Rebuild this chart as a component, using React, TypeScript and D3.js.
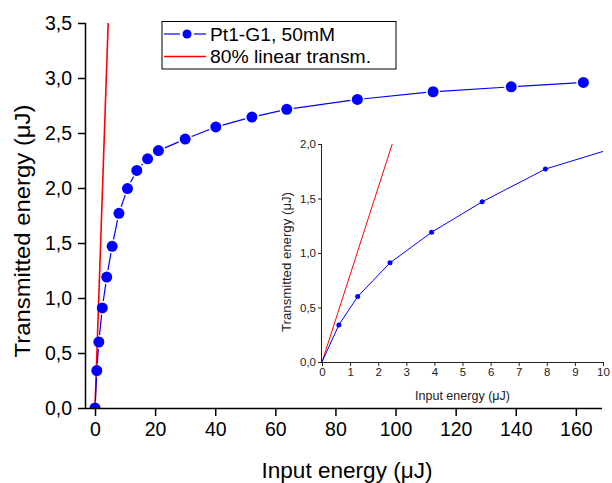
import React, { useEffect, useRef } from 'react';
import * as d3 from 'd3';

// measured values (µJ)
const inputEnergy = [0, 0.6, 1.27, 2.42, 3.9, 5.7, 7.95, 10.8, 13.9, 17.5, 21.1, 30, 40.2, 52.2, 63.8, 87.3, 112.5, 138.5, 162.5];
const transmitted = [0, 0.34, 0.6, 0.91, 1.19, 1.47, 1.77, 1.995, 2.16, 2.265, 2.34, 2.445, 2.555, 2.645, 2.715, 2.805, 2.875, 2.92, 2.96];

// 80% linear transmission reference line endpoints
const linearIn = [0, 5];
const linearOut = [0, 4];

const mainXTicks = [0, 20, 40, 60, 80, 100, 120, 140, 160];
const mainYTicks = [0, 0.5, 1.0, 1.5, 2.0, 2.5, 3.0, 3.5];
const insetXTicks = [0, 1, 2, 3, 4, 5, 6, 7, 8, 9, 10];
const insetYTicks = [0, 0.5, 1.0, 1.5, 2.0];

const seriesName = 'Pt1-G1, 50mM';
const linearName = '80% linear transm.';

const FONT = '"Liberation Sans", Arial, sans-serif';
const BLUE = '#0000ff';
const RED = '#ff0000';

document.body.style.margin = '0';

const fmt = (v: number) => d3.format('.1f')(v).replace('.', ',');

const App = () => {
  const svgRef = useRef<SVGSVGElement>(null);

  useEffect(() => {
    if (!svgRef.current) return;
    const svg = d3.select(svgRef.current);
    svg.selectAll('*').remove();

    const pts = inputEnergy.map((x, i) => ({ x, y: transmitted[i] }));
    const lin = linearIn.map((x, i) => ({ x, y: linearOut[i] }));

    // ---------- main chart ----------
    const x = d3.scaleLinear().domain([-3, 168.7]).range([86, 602]);
    const y = d3.scaleLinear().domain([0, 3.5]).range([408, 23]);

    const defs = svg.append('defs');
    defs.append('clipPath').attr('id', 'clipMain')
      .append('rect').attr('x', 86).attr('y', 23).attr('width', 516).attr('height', 385);
    defs.append('clipPath').attr('id', 'clipInset')
      .append('rect').attr('x', 322).attr('y', 144).attr('width', 281).attr('height', 218);

    const gMain = svg.append('g').attr('clip-path', 'url(#clipMain)');

    // red linear line
    gMain.append('path')
      .datum(lin)
      .attr('d', d3.line<{ x: number; y: number }>().x(d => x(d.x)).y(d => y(d.y)))
      .attr('fill', 'none').attr('stroke', RED).attr('stroke-width', 1.6);

    // blue line with gaps at symbols (Origin style)
    const r = 5.5;
    const gap = r + 1.5;
    for (let i = 0; i < pts.length - 1; i++) {
      const x1 = x(pts[i].x), y1 = y(pts[i].y), x2 = x(pts[i + 1].x), y2 = y(pts[i + 1].y);
      const d = Math.hypot(x2 - x1, y2 - y1);
      if (d <= 2 * gap) continue;
      const ux = (x2 - x1) / d, uy = (y2 - y1) / d;
      gMain.append('line')
        .attr('x1', x1 + ux * gap).attr('y1', y1 + uy * gap)
        .attr('x2', x2 - ux * gap).attr('y2', y2 - uy * gap)
        .attr('stroke', BLUE).attr('stroke-width', 1.2);
    }
    gMain.selectAll('.pt').data(pts).enter().append('circle')
      .attr('cx', d => x(d.x)).attr('cy', d => y(d.y)).attr('r', r)
      .attr('fill', BLUE);

    // axes
    const axisColor = '#000';
    const gx = svg.append('g').attr('transform', 'translate(0,408)');
    gx.call(d3.axisBottom(x).tickValues(d3.range(0, 170, 10)).tickSize(5).tickFormat(() => ''));
    gx.call(d3.axisBottom(x).tickValues(mainXTicks).tickSize(8).tickSizeOuter(0).tickPadding(6).tickFormat(d => String(d)));
    gx.selectAll('.domain').attr('d', 'M86,0.5H602').attr('stroke', axisColor).attr('stroke-width', 1.5);
    gx.selectAll('line').attr('stroke', axisColor).attr('stroke-width', 1.5);
    gx.selectAll('text').attr('font-family', FONT).attr('font-size', 19.5).attr('fill', '#000');

    const gy = svg.append('g').attr('transform', 'translate(86,0)');
    gy.call(d3.axisLeft(y).tickValues(d3.range(0, 3.51, 0.25)).tickSize(4.5).tickFormat(() => ''));
    gy.call(d3.axisLeft(y).tickValues(mainYTicks).tickSize(8).tickSizeOuter(0).tickPadding(6).tickFormat(d => fmt(+d)));
    gy.selectAll('.domain').attr('d', 'M-0.5,23V408').attr('stroke', axisColor).attr('stroke-width', 1.5);
    gy.selectAll('line').attr('stroke', axisColor).attr('stroke-width', 1.5);
    gy.selectAll('text').attr('font-family', FONT).attr('font-size', 19.5).attr('fill', '#000');

    svg.append('text')
      .attr('x', 347).attr('y', 478).attr('text-anchor', 'middle')
      .attr('font-family', FONT).attr('font-size', 21.5)
      .attr('textLength', 171).attr('lengthAdjust', 'spacingAndGlyphs')
      .text('Input energy (μJ)');
    svg.append('text')
      .attr('transform', 'translate(29.5,231) rotate(-90)').attr('text-anchor', 'middle')
      .attr('font-family', FONT).attr('font-size', 22.5)
      .attr('textLength', 253).attr('lengthAdjust', 'spacingAndGlyphs')
      .text('Transmitted energy (μJ)');

    // legend
    const lg = svg.append('g');
    lg.append('rect').attr('x', 162).attr('y', 21.5).attr('width', 234).attr('height', 47.5)
      .attr('fill', '#fff').attr('stroke', '#000').attr('stroke-width', 1);
    lg.append('line').attr('x1', 164).attr('x2', 180).attr('y1', 34).attr('y2', 34).attr('stroke', BLUE).attr('stroke-width', 1.2);
    lg.append('line').attr('x1', 194).attr('x2', 206).attr('y1', 34).attr('y2', 34).attr('stroke', BLUE).attr('stroke-width', 1.2);
    lg.append('circle').attr('cx', 187).attr('cy', 34).attr('r', 4.5).attr('fill', BLUE);
    lg.append('line').attr('x1', 164).attr('x2', 206).attr('y1', 56.5).attr('y2', 56.5).attr('stroke', RED).attr('stroke-width', 1.6);
    lg.append('text').attr('x', 210).attr('y', 40.5).attr('font-family', FONT).attr('font-size', 18.5)
      .attr('textLength', 125).attr('lengthAdjust', 'spacingAndGlyphs').text(seriesName);
    lg.append('text').attr('x', 210).attr('y', 63).attr('font-family', FONT).attr('font-size', 18.5)
      .attr('textLength', 161).attr('lengthAdjust', 'spacingAndGlyphs').text(linearName);

    // ---------- inset ----------
    const ix = d3.scaleLinear().domain([0, 10]).range([322, 603]);
    const iy = d3.scaleLinear().domain([0, 2]).range([362, 144]);
    const gIn = svg.append('g').attr('clip-path', 'url(#clipInset)');
    gIn.append('path')
      .datum(lin)
      .attr('d', d3.line<{ x: number; y: number }>().x(d => ix(d.x)).y(d => iy(d.y)))
      .attr('fill', 'none').attr('stroke', RED).attr('stroke-width', 1);
    gIn.append('path')
      .datum(pts)
      .attr('d', d3.line<{ x: number; y: number }>().x(d => ix(d.x)).y(d => iy(d.y)))
      .attr('fill', 'none').attr('stroke', BLUE).attr('stroke-width', 1);
    gIn.selectAll('.ipt').data(pts.filter(p => p.x > 0 && p.x <= 10)).enter().append('circle')
      .attr('cx', d => ix(d.x)).attr('cy', d => iy(d.y)).attr('r', 2.5).attr('fill', BLUE);

    const igx = svg.append('g').attr('transform', 'translate(0,362)');
    igx.call(d3.axisBottom(ix).tickValues(d3.range(0, 10.01, 0.5)).tickSize(2.5).tickFormat(() => ''));
    igx.call(d3.axisBottom(ix).tickValues(insetXTicks).tickSize(4).tickSizeOuter(0).tickPadding(2).tickFormat(d => String(d)));
    igx.selectAll('.domain').attr('d', 'M322,0.5H603').attr('stroke', '#222').attr('stroke-width', 1);
    igx.selectAll('line').attr('stroke', '#222');
    igx.selectAll('text').attr('font-family', FONT).attr('font-size', 11.5).attr('fill', '#222');

    const igy = svg.append('g').attr('transform', 'translate(322,0)');
    igy.call(d3.axisLeft(iy).tickValues(d3.range(0, 2.01, 0.25)).tickSize(2.5).tickFormat(() => ''));
    igy.call(d3.axisLeft(iy).tickValues(insetYTicks).tickSize(4).tickSizeOuter(0).tickPadding(2).tickFormat(d => fmt(+d)));
    igy.selectAll('.domain').attr('d', 'M-0.5,144V362').attr('stroke', '#222').attr('stroke-width', 1);
    igy.selectAll('line').attr('stroke', '#222');
    igy.selectAll('text').attr('font-family', FONT).attr('font-size', 11.5).attr('fill', '#222');

    svg.append('text')
      .attr('x', 462.5).attr('y', 400).attr('text-anchor', 'middle')
      .attr('font-family', FONT).attr('font-size', 12).attr('fill', '#222')
      .attr('textLength', 95).attr('lengthAdjust', 'spacingAndGlyphs')
      .text('Input energy (μJ)');
    svg.append('text')
      .attr('transform', 'translate(291,262) rotate(-90)').attr('text-anchor', 'middle')
      .attr('font-family', FONT).attr('font-size', 12).attr('fill', '#222')
      .attr('textLength', 140).attr('lengthAdjust', 'spacingAndGlyphs')
      .text('Transmitted energy (μJ)');
  }, []);

  return <svg ref={svgRef} width={612} height={483} style={{ display: 'block', background: '#fff' }} />;
};

export default App;
